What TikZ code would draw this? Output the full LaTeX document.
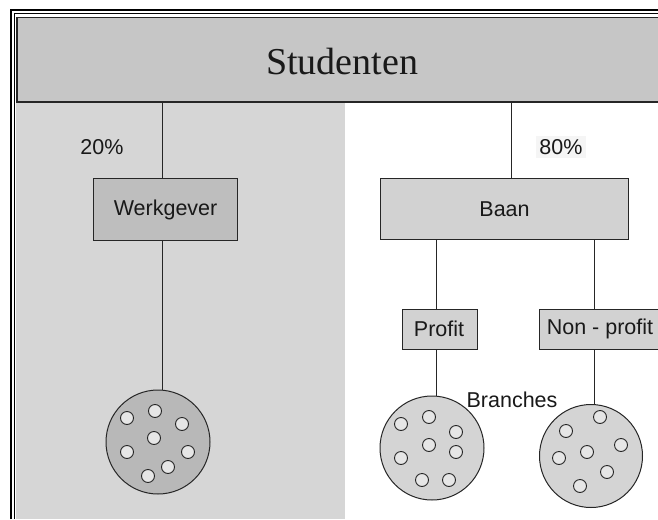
\documentclass[tikz,border=0pt]{standalone}
\usepackage{fontspec}
\setmainfont{Liberation Serif}
\newfontfamily\labelfont{Liberation Sans}
\usetikzlibrary{calc}
\definecolor{hdrgray}{HTML}{C6C6C6}
\definecolor{leftgray}{HTML}{D6D6D6}
\definecolor{wgray}{HTML}{BEBEBE}
\definecolor{boxgray}{HTML}{D2D2D2}
\definecolor{ballgray}{HTML}{B8B8B8}
\definecolor{lightball}{HTML}{D4D4D4}
\definecolor{dotgray}{HTML}{E6E6E6}
\tikzset{
  x=1pt, y=-1pt,
  conn/.style={draw=black!85, line width=1pt},
  lbl/.style={font=\labelfont\fontsize{21.5}{23}\selectfont, inner sep=0pt, text=black!90},
  rectbox/.style={draw=black!85, line width=1.1pt, inner sep=0pt, anchor=north west},
  group/.style={circle, draw=black!85, line width=1pt, inner sep=0pt},
  member/.style={fill=dotgray, draw=black!85, line width=0.9pt},
}
\begin{document}
\begin{tikzpicture}
\useasboundingbox (0,0) rectangle (658,519);
\clip (0,0) rectangle (658,519);
\fill[white] (0,0) rectangle (658,519);

% shaded left half under the header
\fill[leftgray] (16,101) rectangle (345,519);

% double frame along the top and left edge
\draw[line width=1.1pt] (11,519) -- (11,10) -- (660,10);
\draw[line width=1.1pt] (14.5,519) -- (14.5,13.5) -- (660,13.5);

% header bar
\node[rectbox, fill=hdrgray, line width=1.5pt, minimum width=650pt, minimum height=84pt] (hdr) at (16,17) {};
\node[font=\fontsize{38}{40}\selectfont, inner sep=0pt, text=black!90] (title) at (342,62) {Studenten};

% employer branch (left)
\node[rectbox, fill=wgray, minimum width=144pt, minimum height=62pt] (wg) at (93,178) {};
\node[lbl] (wgtxt) at (wg.center) {Werkgever};
\node[lbl] (pl) at (102,147) {20\%};
\node[group, fill=ballgray, minimum size=104pt] (c1) at (158,442) {};

\path ([xshift=-3pt]wg.north) coordinate (wgTop);
\path ([xshift=-3pt]wg.south) coordinate (wgBot);
\draw[conn] (wgTop |- hdr.south) -- (wgTop);
\draw[conn] (wgBot) -- (wgBot |- c1.north);

% job branch (right)
\node[rectbox, fill=boxgray, minimum width=248pt, minimum height=61pt] (baan) at (380,178) {};
\node[lbl] (baantxt) at (baan.center) {Baan};
\node[lbl, fill=black!4, inner sep=3pt] (pr) at (561,147) {80\%};
\path ([xshift=7pt]baan.north) coordinate (baanTop);
\draw[conn] (baanTop |- hdr.south) -- (baanTop);

\node[rectbox, fill=boxgray, minimum width=75pt, minimum height=40pt] (pf) at (402,309) {};
\node[lbl] (pftxt) at (439,329) {Profit};
\node[rectbox, fill=boxgray, minimum width=125pt, minimum height=40pt] (npf) at (539,309) {};
\node[lbl] (npftxt) at (600,329) {Non - profit};

\node[group, fill=lightball, minimum size=104pt] (c2) at (432,448) {};
\node[group, fill=lightball, minimum size=103pt] (c3) at (591,456) {};
\node[lbl] (br) at (512,400) {Branches};

\path ([xshift=-3.5pt]pf.north) coordinate (pfTop);
\path ([xshift=-3.5pt]pf.south) coordinate (pfBot);
\path ([xshift=-7.5pt]npf.north) coordinate (npfTop);
\path ([xshift=-7.5pt]npf.south) coordinate (npfBot);
\draw[conn] (pfTop |- baan.south) -- (pfTop);
\draw[conn] (npfTop |- baan.south) -- (npfTop);
\draw[conn] (pfBot) -- (pfBot |- c2.north);
\draw[conn] (npfBot) -- (npfBot |- c3.north);

% members inside each group
\foreach \p in {(155,411),(127,418),(182,424),(154,438),(127,452),(188,452),(168,467),(148,476)}
  \draw[member] \p circle (6.5);
\foreach \p in {(401,424),(429,417),(456,432),(429,445),(456,452),(401,458),(422,480),(449,480)}
  \draw[member] \p circle (6.5);
\foreach \p in {(600,417),(566,431),(621,445),(587,452),(559,458),(607,472),(580,486)}
  \draw[member] \p circle (6.5);
\end{tikzpicture}
\end{document}
